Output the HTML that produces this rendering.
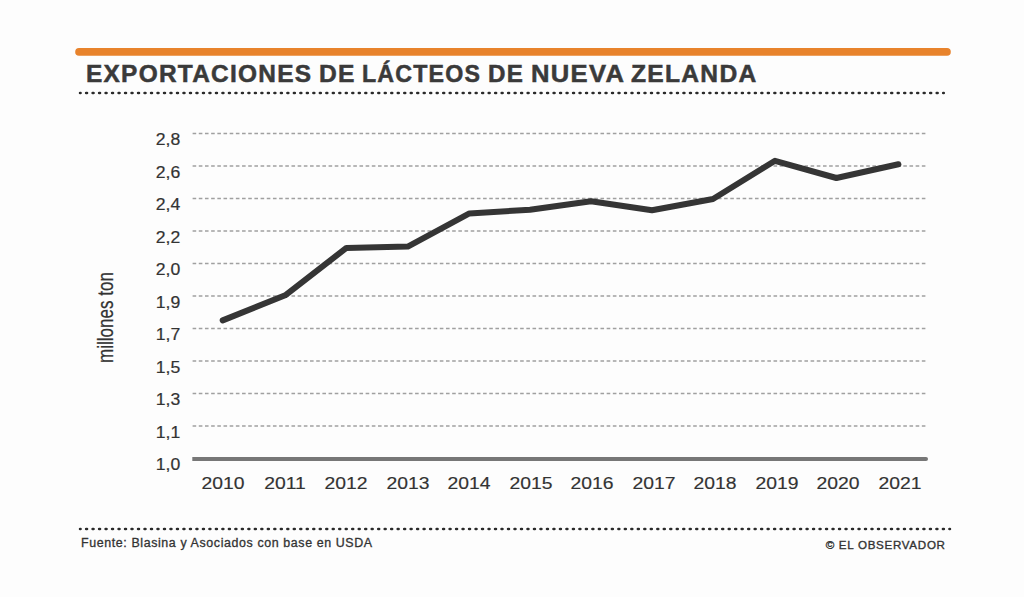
<!DOCTYPE html>
<html><head><meta charset="utf-8">
<style>
html,body{margin:0;padding:0;}
body{width:1024px;height:597px;overflow:hidden;background:#fdfdfd;position:relative;font-family:"Liberation Sans",sans-serif;color:#333;}
.abs{position:absolute;white-space:nowrap;}
.tw{position:absolute;white-space:nowrap;top:61px;font-size:23.3px;font-weight:bold;color:#3a3a3a;transform-origin:0 0;letter-spacing:1.2px;line-height:27px;-webkit-text-stroke:0.5px #3a3a3a;}
.yl{position:absolute;right:843.5px;font-size:16px;line-height:16px;color:#333;transform-origin:100% 0;transform:scaleX(1.10);-webkit-text-stroke:0.2px #333;}
.xl{position:absolute;font-size:15.6px;line-height:16px;color:#333;width:80px;text-align:center;transform:scaleX(1.24);-webkit-text-stroke:0.15px #333;}
#foot1{left:80.5px;top:536.8px;-webkit-text-stroke:0.3px #333;font-size:12.3px;letter-spacing:0.6px;line-height:13px;color:#333;transform-origin:0 0;transform:scaleX(1.0098);}
#foot2{left:825.7px;top:537.6px;-webkit-text-stroke:0.35px #333;letter-spacing:0.7px;font-size:11.6px;line-height:13px;color:#333;}
#ylab{left:94.5px;-webkit-text-stroke:0.25px #333;top:362.5px;font-size:22px;line-height:22px;color:#333;transform-origin:0 0;transform:rotate(-90deg) scaleX(0.774);}
</style></head>
<body>
<svg class="abs" style="left:0;top:0" width="1024" height="597" viewBox="0 0 1024 597">
  <line x1="79" y1="51.9" x2="947" y2="51.9" stroke="#e8832c" stroke-width="7.6" stroke-linecap="round"/>
  <line x1="80.1" y1="93" x2="943.7" y2="93" stroke="#2a2a2a" stroke-width="2.7" stroke-linecap="round" stroke-dasharray="0.8 5.693" stroke-dashoffset="0.4"/>
  <line x1="80.1" y1="529" x2="949.9" y2="529" stroke="#2a2a2a" stroke-width="2.7" stroke-linecap="round" stroke-dasharray="0.8 5.691" stroke-dashoffset="0.4"/>
  <g stroke="#a0a0a0" stroke-width="1.5" stroke-dasharray="3.6 2.58" stroke-dashoffset="-0.5">
    <line x1="192.1" y1="133.6" x2="925.4" y2="133.6"/>
    <line x1="192.1" y1="166.1" x2="925.4" y2="166.1"/>
    <line x1="192.1" y1="198.6" x2="925.4" y2="198.6"/>
    <line x1="192.1" y1="231.1" x2="925.4" y2="231.1"/>
    <line x1="192.1" y1="263.6" x2="925.4" y2="263.6"/>
    <line x1="192.1" y1="296.1" x2="925.4" y2="296.1"/>
    <line x1="192.1" y1="328.6" x2="925.4" y2="328.6"/>
    <line x1="192.1" y1="361.1" x2="925.4" y2="361.1"/>
    <line x1="192.1" y1="393.6" x2="925.4" y2="393.6"/>
    <line x1="192.1" y1="426.1" x2="925.4" y2="426.1"/>
  </g>
  <line x1="192.3" y1="459" x2="926" y2="459" stroke="#777" stroke-width="4"/><circle cx="926" cy="459" r="2" fill="#777"/>
  <polyline fill="none" stroke="#353535" stroke-width="6" stroke-linecap="round" stroke-linejoin="round"
    points="222.7,320.4 285.2,295.3 346.4,247.9 407.8,246.6 469.4,213.4 530,209.8 591,201.2 652,210.3 713,199 775,160.8 836.4,178 898.4,164.3"/>
</svg>
<div class="tw" style="left:85.95px;transform:scaleX(1.0488)">EXPORTACIONES</div>
<div class="tw" style="left:318.84px;transform:scaleX(1.0563)">DE</div>
<div class="tw" style="left:362.30px;transform:scaleX(0.9957)">LÁCTEOS</div>
<div class="tw" style="left:488.26px;transform:scaleX(1.0375)">DE</div>
<div class="tw" style="left:531.00px;transform:scaleX(1.0988)">NUEVA</div>
<div class="tw" style="left:630.50px;transform:scaleX(1.0568)">ZELANDA</div>

<div class="yl" style="top:132px">2,8</div>
<div class="yl" style="top:165px">2,6</div>
<div class="yl" style="top:197px">2,4</div>
<div class="yl" style="top:230px">2,2</div>
<div class="yl" style="top:262px">2,0</div>
<div class="yl" style="top:295px">1,9</div>
<div class="yl" style="top:327px">1,7</div>
<div class="yl" style="top:360px">1,5</div>
<div class="yl" style="top:392px">1,3</div>
<div class="yl" style="top:425px">1,1</div>
<div class="yl" style="top:457px">1,0</div>

<div class="xl" style="left:183.4px;top:476px">2010</div>
<div class="xl" style="left:244.9px;top:476px">2011</div>
<div class="xl" style="left:306.4px;top:476px">2012</div>
<div class="xl" style="left:367.9px;top:476px">2013</div>
<div class="xl" style="left:429.4px;top:476px">2014</div>
<div class="xl" style="left:490.9px;top:476px">2015</div>
<div class="xl" style="left:552.4px;top:476px">2016</div>
<div class="xl" style="left:613.9px;top:476px">2017</div>
<div class="xl" style="left:675.4px;top:476px">2018</div>
<div class="xl" style="left:736.9px;top:476px">2019</div>
<div class="xl" style="left:798.4px;top:476px">2020</div>
<div class="xl" style="left:859.9px;top:476px">2021</div>

<div id="ylab" class="abs">millones ton</div>
<div id="foot1" class="abs">Fuente: Blasina y Asociados con base en USDA</div>
<div id="foot2" class="abs">© EL OBSERVADOR</div>
</body></html>
